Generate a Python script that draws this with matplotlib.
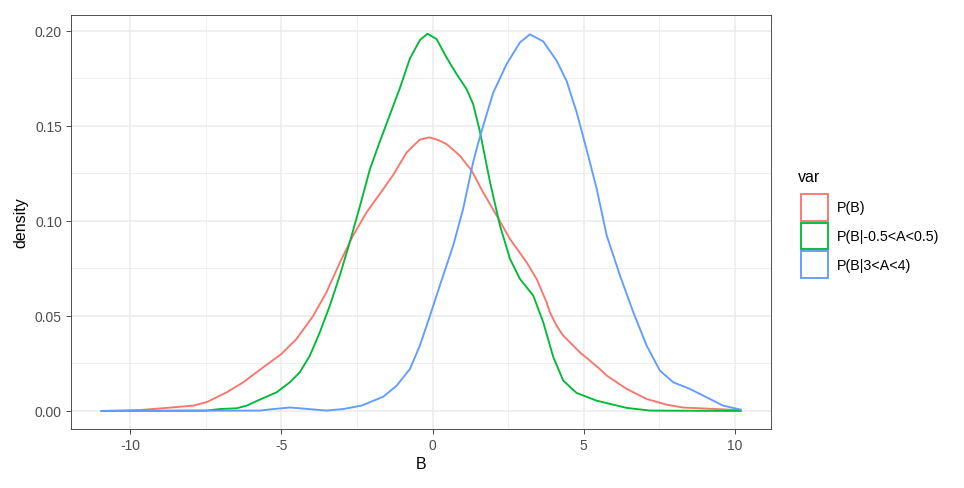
import matplotlib
matplotlib.use("Agg")
import matplotlib.pyplot as plt
from matplotlib.patches import Rectangle

# ---- data ----
red_x = [-10.95, -9.67, -8.8, -7.92, -7.48, -6.81, -6.26, -5.6, -5.0, -4.5, -3.95, -3.51, -3.07, -2.63,
         -2.18, -1.63, -1.30, -0.86, -0.64, -0.42, -0.11, 0.2, 0.46, 0.9, 1.29, 1.67, 2.12, 2.56, 3.11,
         3.44, 3.77, 3.88, 4.1, 4.32, 4.43, 4.87, 5.53, 5.76, 6.42, 7.08, 7.74, 8.29, 9.39, 10.19]
red_y = [0.0, 0.0005, 0.0016, 0.0028, 0.0046, 0.0098, 0.0151, 0.023, 0.030, 0.0379, 0.050, 0.0625,
         0.078, 0.0923, 0.1046, 0.1168, 0.1243, 0.136, 0.1395, 0.1428, 0.1440, 0.1425, 0.1405, 0.1344,
         0.1265, 0.1151, 0.1028, 0.0905, 0.0782, 0.0695, 0.0572, 0.0519, 0.0449, 0.0396, 0.0379, 0.0309,
         0.0221, 0.0186, 0.0116, 0.0063, 0.0033, 0.0018, 0.001, 0.0004]

green_x = [-10.95, -7.48, -7.04, -6.48, -6.15, -5.71, -5.16, -4.72, -4.39, -4.06, -3.73, -3.4, -3.07,
           -2.74, -2.4, -2.07, -1.74, -1.41, -1.08, -0.75, -0.42, -0.17, 0.13, 0.46, 0.79, 1.12, 1.34,
           1.56, 1.9, 2.23, 2.56, 2.89, 3.33, 3.66, 3.99, 4.32, 4.76, 5.43, 6.42, 7.19, 10.19]
green_y = [0.0, 0.0002, 0.001, 0.0014, 0.0028, 0.006, 0.0098, 0.0151, 0.0204, 0.0291, 0.0414, 0.0554,
           0.0712, 0.0888, 0.108, 0.1274, 0.142, 0.156, 0.170, 0.1855, 0.1952, 0.1985, 0.1958, 0.1861,
           0.1774, 0.1695, 0.1616, 0.1475, 0.1204, 0.0975, 0.080, 0.0695, 0.0607, 0.0467, 0.0285, 0.016,
           0.0095, 0.0054, 0.0016, 0.0002, 0.0]

blue_x = [-10.95, -5.71, -5.27, -4.72, -4.39, -3.51, -2.96, -2.35, -1.63, -1.19, -0.75, -0.42, -0.09,
          0.24, 0.68, 1.01, 1.34, 1.56, 2.0, 2.45, 2.89, 3.22, 3.66, 4.1, 4.43, 4.76, 5.09, 5.43, 5.76,
          6.2, 6.64, 7.08, 7.52, 7.96, 8.51, 9.06, 9.61, 10.19]
blue_y = [0.0, 0.0002, 0.001, 0.0018, 0.0014, 0.0002, 0.001, 0.0028, 0.0075, 0.0133, 0.0221, 0.0344,
          0.050, 0.066, 0.087, 0.1063, 0.1309, 0.1440, 0.1673, 0.1826, 0.194, 0.1982, 0.1945, 0.1844,
          0.1738, 0.1575, 0.1379, 0.1168, 0.0923, 0.0712, 0.0519, 0.0344, 0.0212, 0.0151, 0.0116, 0.0072,
          0.0028, 0.0007]

labels = ["P(B)", "P(B|-0.5<A<0.5)", "P(B|3<A<4)"]
colors = ["#F8766D", "#00BA38", "#619CFF"]
x_ticks = [-10, -5, 0, 5, 10]
y_ticks = [0.00, 0.05, 0.10, 0.15, 0.20]

W, H = 964, 489
fig = plt.figure(figsize=(W / 100, H / 100), dpi=100)
plt.rcParams['font.family'] = ['Liberation Sans', 'DejaVu Sans']

L, R, T, B = 71, 771.5, 16, 430
ax = fig.add_axes([L / W, 1 - B / H, (R - L) / W, (B - T) / H])
ax.set_xlim(-11.96, 11.21)
ax.set_ylim(-0.0095, 0.2084)

for v in [-7.5, -2.5, 2.5, 7.5]:
    ax.axvline(v, color="#EBEBEB", lw=0.55, zorder=0)
for v in [0.025, 0.075, 0.125, 0.175]:
    ax.axhline(v, color="#EBEBEB", lw=0.55, zorder=0)
for v in x_ticks:
    ax.axvline(v, color="#EBEBEB", lw=1.1, zorder=0)
for v in y_ticks:
    ax.axhline(v, color="#EBEBEB", lw=1.1, zorder=0)

series = [(red_x, red_y), (green_x, green_y), (blue_x, blue_y)]
for (xs, ys), c in zip(series, colors):
    ax.plot(xs, ys, color=c, lw=1.35, zorder=3, solid_joinstyle="round")

ax.set_xticks(x_ticks)
ax.set_xticklabels([str(v) for v in x_ticks])
ax.set_yticks(y_ticks)
ax.set_yticklabels([f"{v:.2f}" for v in y_ticks])
ax.tick_params(length=3.5, width=0.6, color="#333333", labelcolor="#4D4D4D", labelsize=10, pad=3)
for s in ax.spines.values():
    s.set_color("#333333")
    s.set_linewidth(0.6)
ax.set_xlabel("B", fontsize=11.5, color="black", labelpad=3)
ax.set_ylabel("density", fontsize=11.5, color="black", labelpad=5)

# legend drawn manually
fig.text(798 / W, 1 - 177 / H, "var", fontsize=11.5, ha="left", va="center")
key_top = [195, 223.7, 252.4]
for kt, c, lab in zip(key_top, colors, labels):
    fig.add_artist(Rectangle((801 / W, 1 - (kt + 26.5) / H), 26.5 / W, 26.5 / H,
                             transform=fig.transFigure, facecolor="white", edgecolor=c, lw=1.35))
    fig.text(837 / W, 1 - (kt + 13.5) / H, lab, fontsize=10.3, ha="left", va="center", color="black")

fig.savefig("out.png", dpi=100)
